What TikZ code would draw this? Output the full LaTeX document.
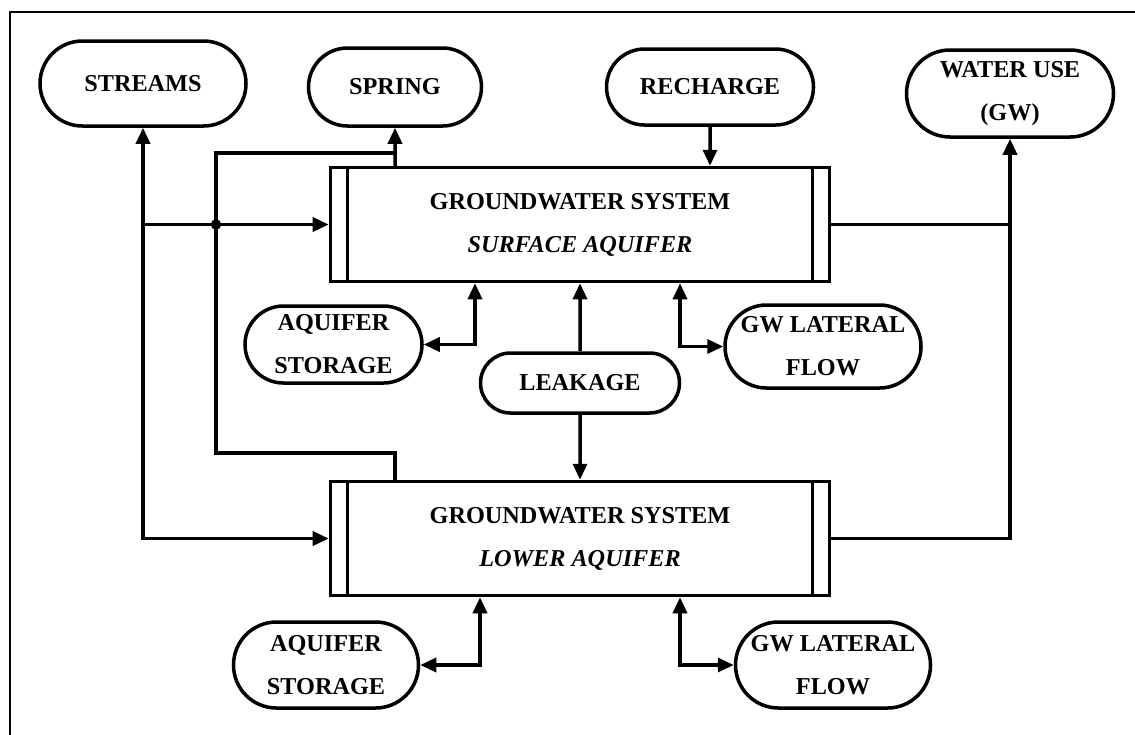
\documentclass[tikz,border=0pt]{standalone}
\usepackage{fontspec}
\setmainfont{Liberation Serif}
\usetikzlibrary{arrows.meta,shapes.misc}
\newcommand{\lbl}{\fontsize{13.8}{24.5}\selectfont\bfseries}
\begin{document}
\begin{tikzpicture}
                    \tikzset{
                        term/.style={draw, rounded rectangle, line width=2pt, inner sep=0pt, align=center, font=\lbl},
                        sysbox/.style={draw, line width=2pt, minimum width=9.98cm, minimum height=2.28cm, align=center, font=\lbl,
                            path picture={
                                \draw[line width=2pt] ([xshift=0.34cm]path picture bounding box.north west) -- ([xshift=0.34cm]path picture bounding box.south west);
                                \draw[line width=2pt] ([xshift=-0.34cm]path picture bounding box.north east) -- ([xshift=-0.34cm]path picture bounding box.south east);
                            }},
                        arc/.style={line width=2pt},
                        >={Triangle[length=0.32cm,width=0.28cm]}
                    }
                    \useasboundingbox (0,0) rectangle (22.7,-14.68);
                    \draw[line width=1pt] (22.8,-0.24) -| (0.2,-14.8);

                    \draw node[term, minimum width=4.12cm, minimum height=1.70cm] (streams) at (2.86,-1.67) {STREAMS};
                    \draw node[term, minimum width=3.46cm, minimum height=1.56cm] (spring) at (7.9,-1.74) {SPRING};
                    \draw node[term, minimum width=4.14cm, minimum height=1.52cm] (recharge) at (14.2,-1.74) {RECHARGE};
                    \draw node[term, minimum width=4.14cm, minimum height=1.74cm] (wateruse) at (20.2,-1.87) {WATER USE\\(GW)};
                    \draw node[sysbox] (surface) at (11.6,-4.49) {GROUNDWATER SYSTEM\\\textit{SURFACE AQUIFER}};
                    \draw node[term, minimum width=3.54cm, minimum height=1.54cm] (storage1) at (6.67,-6.89) {AQUIFER\\STORAGE};
                    \draw node[term, minimum width=3.98cm, minimum height=1.20cm] (leakage) at (11.6,-7.66) {LEAKAGE};
                    \draw node[term, minimum width=3.92cm, minimum height=1.66cm] (lateral1) at (16.46,-6.93) {GW LATERAL\\FLOW};
                    \draw node[sysbox] (lower) at (11.6,-10.77) {GROUNDWATER SYSTEM\\\textit{LOWER AQUIFER}};
                    \draw node[term, minimum width=3.70cm, minimum height=1.72cm] (storage2) at (6.52,-13.3) {AQUIFER\\STORAGE};
                    \draw node[term, minimum width=3.90cm, minimum height=1.72cm] (lateral2) at (16.66,-13.3) {GW LATERAL\\FLOW};

                    % streams
                    \draw[arc, <->] (streams) |- (lower);
                    \draw[arc, ->] (streams |- surface) -- (surface);
                    % spring loop
                    \coordinate (loopA) at (4.32,-3.06);
                    \coordinate (loopB) at (4.32,-9.06);
                    \draw[arc, ->] (spring |- surface.north) -- (spring);
                    \draw[arc] (spring |- loopA) -- (loopA) -- (loopB) -- (spring |- loopB) -- (spring |- lower.north);
                    \fill (loopA |- surface) circle (3pt);
                    % recharge, water use, leakage
                    \draw[arc, ->] (recharge) -- (recharge |- surface.north);
                    \draw[arc] (surface) -- (wateruse |- surface);
                    \draw[arc, ->] (lower) -| (wateruse);
                    \draw[arc, ->] (leakage) -- (surface);
                    \draw[arc, ->] (leakage) -- (lower);
                    \foreach \x/\y/\s in {%
                        storage1/surface/-2.1, lateral1/surface/2.0, storage2/lower/-2.0, lateral2/lower/2.0%
                    }{
                    \draw[arc, <->] (\x) -| ([xshift=\s cm]\y.south);
                    }
                    \end{tikzpicture}
\end{document}
